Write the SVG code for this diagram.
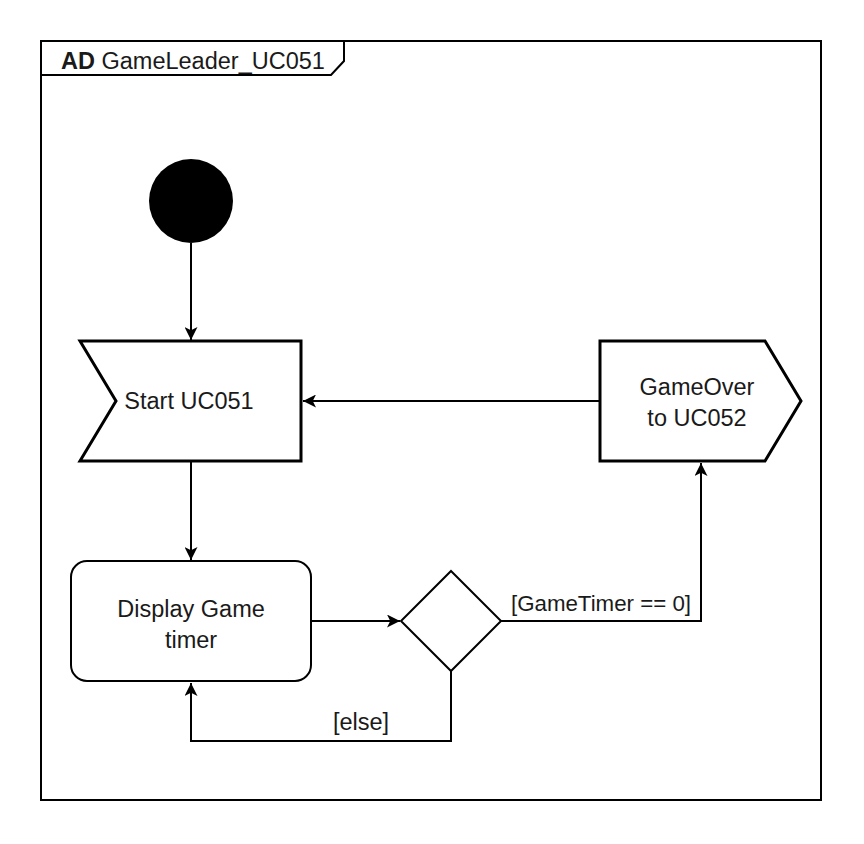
<svg xmlns="http://www.w3.org/2000/svg" width="864" height="844" viewBox="0 0 864 844">
<style>
text{font-family:"Liberation Sans",Arial,sans-serif;font-size:23.5px;fill:#1a1a1a}
.c{text-anchor:middle}
.ln{fill:none;stroke:#000;stroke-width:2}
.thick{fill:#fff;stroke:#000;stroke-width:3}
.thin{fill:#fff;stroke:#000;stroke-width:2}
</style>
<defs>
<marker id="ah" viewBox="0 0 10 10" refX="10" refY="5" markerWidth="13" markerHeight="13" markerUnits="userSpaceOnUse" orient="auto">
<path d="M0,0 L10,5 L0,10 L2.5,5 Z" fill="#000"/>
</marker>
</defs>
<rect width="864" height="844" fill="#fff"/>
<g id="frame">
<rect x="41" y="41" width="780" height="759" fill="none" stroke="#000" stroke-width="2"/>
<path d="M41,75 L331,75 L344,61 L344,41" fill="none" stroke="#000" stroke-width="2"/>
<text x="61" y="69"><tspan font-weight="bold">AD</tspan> GameLeader_UC051</text>
</g>
<g id="connectors">
<line class="ln" x1="191" y1="243" x2="191" y2="340" marker-end="url(#ah)"/>
<line class="ln" x1="600" y1="401" x2="303" y2="401" marker-end="url(#ah)"/>
<line class="ln" x1="191" y1="462" x2="191" y2="560" marker-end="url(#ah)"/>
<line class="ln" x1="311" y1="621" x2="400" y2="621" marker-end="url(#ah)"/>
<polyline class="ln" points="501,621 701,621 701,463" marker-end="url(#ah)"/>
<polyline class="ln" points="451,671 451,741 191,741 191,683" marker-end="url(#ah)"/>
<text x="601" y="611" class="c" style="font-size:22.3px">[GameTimer == 0]</text>
<text x="361" y="730" class="c">[else]</text>
</g>
<g id="initial">
<circle cx="191" cy="201" r="42" fill="#000"/>
</g>
<g id="start">
<polygon class="thick" points="80,341 301,341 301,461 80,461 116,401"/>
<text x="189" y="409" class="c">Start UC051</text>
</g>
<g id="gameover">
<polygon class="thick" points="600,341 765,341 801,401 765,461 600,461"/>
<text x="697" y="395" class="c">GameOver</text>
<text x="697" y="426" class="c">to UC052</text>
</g>
<g id="display">
<rect class="thin" x="71" y="561" width="240" height="120" rx="16"/>
<text x="191" y="617" class="c">Display Game</text>
<text x="191" y="648" class="c">timer</text>
</g>
<g id="decision">
<polygon class="thin" points="451,571 501,621 451,671 401,621"/>
</g>
</svg>
